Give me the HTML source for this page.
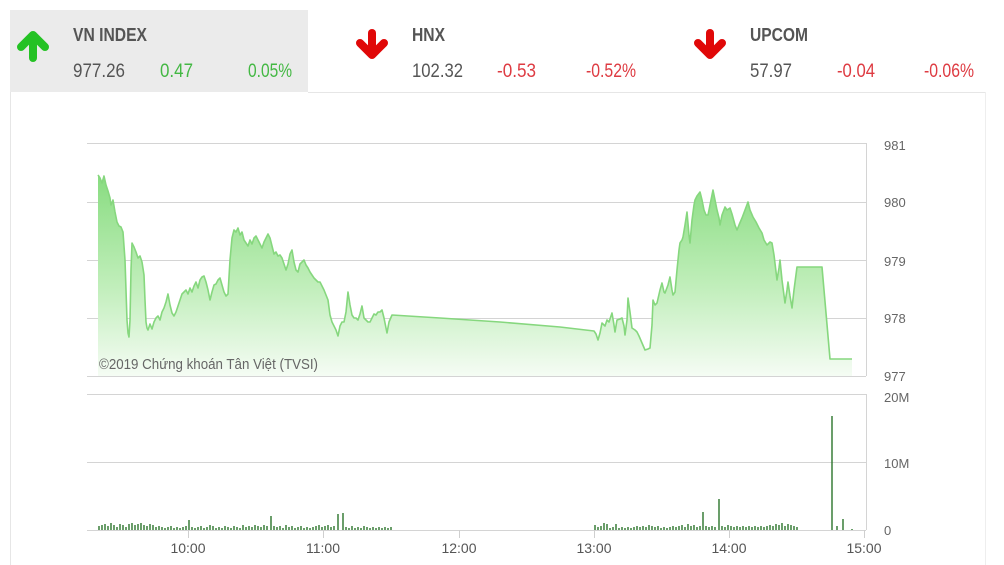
<!DOCTYPE html>
<html><head><meta charset="utf-8"><style>
html,body{margin:0;padding:0;background:#fff;width:1004px;height:565px;overflow:hidden}
svg{display:block}
</style></head><body>
<svg width="1004" height="565" viewBox="0 0 1004 565" xmlns="http://www.w3.org/2000/svg" font-family="'Liberation Sans Narrow','Liberation Sans',sans-serif">
<defs>
<linearGradient id="g" gradientUnits="userSpaceOnUse" x1="0" y1="175" x2="0" y2="376">
<stop offset="0" stop-color="#88dc80"/>
<stop offset="0.55" stop-color="#c0eeba"/>
<stop offset="1" stop-color="#f5fcf4"/>
</linearGradient>
</defs>
<rect x="0" y="0" width="1004" height="565" fill="#fff"/>
<!-- header -->
<rect x="10" y="10" width="298" height="82" fill="#ebebeb"/>
<line x1="308" y1="92.5" x2="985" y2="92.5" stroke="#e6e6e6"/>
<line x1="10.5" y1="92" x2="10.5" y2="565" stroke="#e6e6e6"/>
<line x1="985.5" y1="92" x2="985.5" y2="565" stroke="#eeeeee"/>
<!-- arrows -->
<g stroke="#24c224" stroke-width="8" fill="none" stroke-linecap="round" stroke-linejoin="round">
<polyline points="21,47 33,35 45,47"/><line x1="33" y1="37" x2="33" y2="58"/></g>
<g stroke="#e00808" stroke-width="8" fill="none" stroke-linecap="round" stroke-linejoin="round">
<polyline points="360,43 372,55 384,43"/><line x1="372" y1="33" x2="372" y2="53"/>
<polyline points="698,43 710,55 722,43"/><line x1="710" y1="33" x2="710" y2="53"/></g>
<g font-size="18" font-weight="bold" fill="#555">
<text x="73" y="41" textLength="74" lengthAdjust="spacingAndGlyphs">VN INDEX</text>
<text x="412" y="41" textLength="33" lengthAdjust="spacingAndGlyphs">HNX</text>
<text x="750" y="41" textLength="58" lengthAdjust="spacingAndGlyphs">UPCOM</text>
</g>
<g font-size="19" fill="#555">
<text x="73" y="77" textLength="52" lengthAdjust="spacingAndGlyphs">977.26</text>
<text x="412" y="77" textLength="51" lengthAdjust="spacingAndGlyphs">102.32</text>
<text x="750" y="77" textLength="42" lengthAdjust="spacingAndGlyphs">57.97</text>
</g>
<g font-size="19" fill="#43b843">
<text x="160" y="77" textLength="33" lengthAdjust="spacingAndGlyphs">0.47</text>
<text x="248" y="77" textLength="44" lengthAdjust="spacingAndGlyphs">0.05%</text>
</g>
<g font-size="19" fill="#de3b42">
<text x="497" y="77" textLength="39" lengthAdjust="spacingAndGlyphs">-0.53</text>
<text x="586" y="77" textLength="50" lengthAdjust="spacingAndGlyphs">-0.52%</text>
<text x="837" y="77" textLength="38" lengthAdjust="spacingAndGlyphs">-0.04</text>
<text x="924" y="77" textLength="50" lengthAdjust="spacingAndGlyphs">-0.06%</text>
</g>
<!-- price grid -->
<g stroke="#d4d4d4" stroke-width="1">
<line x1="87" y1="143.5" x2="866" y2="143.5"/>
<line x1="87" y1="202.5" x2="866" y2="202.5"/>
<line x1="87" y1="260.5" x2="866" y2="260.5"/>
<line x1="87" y1="318.5" x2="866" y2="318.5"/>
<line x1="87" y1="376.5" x2="866" y2="376.5"/>
<line x1="866.5" y1="143" x2="866.5" y2="376"/>
<line x1="87" y1="394.5" x2="866" y2="394.5"/>
<line x1="87" y1="462.5" x2="866" y2="462.5"/>
<line x1="87" y1="530.5" x2="866" y2="530.5"/>
<line x1="866.5" y1="394" x2="866.5" y2="530"/>
</g>
<!-- price area -->
<path fill="url(#g)" stroke="none" d="M98,175 L100,178 L102,183 L104,176 L106,185 L108,191 L110,198 L111,205 L113,200 L115,212 L117,222 L119,226 L121,227 L123,232 L125,260 L126,290 L127,320 L128,333 L129,337 L130,320 L131,270 L132,243 L134,247 L136,252 L138,258 L140,256 L142,262 L144,275 L145,300 L146,322 L147,328 L148,330 L150,324 L152,329 L154,322 L156,318 L158,316 L160,320 L162,312 L164,308 L166,302 L168,294 L170,305 L172,313 L174,316 L176,312 L178,306 L180,300 L182,294 L184,292 L186,290 L188,294 L190,288 L192,292 L194,286 L196,282 L198,288 L200,280 L202,277 L204,276 L206,282 L208,290 L210,300 L212,292 L214,285 L216,284 L218,280 L220,278 L222,285 L224,292 L226,296 L228,294 L230,260 L232,238 L234,230 L236,232 L238,228 L240,235 L242,232 L244,240 L246,243 L248,246 L250,240 L252,244 L254,238 L256,236 L258,240 L260,244 L262,248 L264,242 L266,238 L268,234 L270,238 L272,246 L274,254 L276,252 L278,256 L280,255 L282,258 L284,264 L286,270 L288,264 L290,254 L292,250 L294,262 L296,270 L298,272 L300,264 L302,262 L304,260 L306,265 L308,268 L310,272 L312,275 L314,278 L316,280 L318,282 L320,282 L322,286 L324,290 L326,295 L328,300 L330,315 L332,322 L334,326 L336,330 L338,336 L340,326 L342,322 L344,322 L346,312 L348,292 L350,305 L352,315 L354,318 L356,318 L358,320 L360,314 L362,306 L364,318 L366,320 L368,322 L370,322 L372,318 L374,314 L376,315 L378,312 L380,312 L382,310 L384,318 L386,328 L387,333 L389,322 L392,315 L440,318 L500,322 L560,327 L594,331 L596,334 L598,340 L600,333 L602,323 L605,326 L607,320 L609,322 L612,313 L614,325 L615,332 L617,320 L620,319 L622,318 L624,326 L625,335 L627,320 L628,298 L630,312 L632,328 L635,330 L637,332 L639,336 L642,343 L645,350 L648,349 L650,348 L652,325 L653,300 L655,305 L657,303 L660,290 L662,283 L664,292 L665,293 L668,285 L670,277 L672,290 L673,295 L675,292 L677,270 L679,250 L680,243 L682,240 L683,237 L685,225 L687,212 L689,235 L690,243 L692,220 L694,205 L695,200 L697,196 L700,192 L702,200 L704,210 L706,215 L708,215 L710,205 L713,190 L715,200 L717,210 L719,218 L720,225 L722,215 L725,207 L727,210 L730,208 L732,214 L735,225 L737,230 L739,225 L742,218 L745,210 L748,202 L750,210 L753,217 L756,222 L759,228 L762,233 L764,240 L767,245 L770,242 L772,243 L774,255 L777,280 L779,268 L780,260 L782,280 L785,303 L787,290 L788,282 L790,296 L792,308 L794,290 L797,267 L822,267 L830,359 L852,359 L852,376 L98,376 Z"/>
<path fill="none" stroke="#86d77e" stroke-width="1.6" stroke-linejoin="round" d="M98,175 L100,178 L102,183 L104,176 L106,185 L108,191 L110,198 L111,205 L113,200 L115,212 L117,222 L119,226 L121,227 L123,232 L125,260 L126,290 L127,320 L128,333 L129,337 L130,320 L131,270 L132,243 L134,247 L136,252 L138,258 L140,256 L142,262 L144,275 L145,300 L146,322 L147,328 L148,330 L150,324 L152,329 L154,322 L156,318 L158,316 L160,320 L162,312 L164,308 L166,302 L168,294 L170,305 L172,313 L174,316 L176,312 L178,306 L180,300 L182,294 L184,292 L186,290 L188,294 L190,288 L192,292 L194,286 L196,282 L198,288 L200,280 L202,277 L204,276 L206,282 L208,290 L210,300 L212,292 L214,285 L216,284 L218,280 L220,278 L222,285 L224,292 L226,296 L228,294 L230,260 L232,238 L234,230 L236,232 L238,228 L240,235 L242,232 L244,240 L246,243 L248,246 L250,240 L252,244 L254,238 L256,236 L258,240 L260,244 L262,248 L264,242 L266,238 L268,234 L270,238 L272,246 L274,254 L276,252 L278,256 L280,255 L282,258 L284,264 L286,270 L288,264 L290,254 L292,250 L294,262 L296,270 L298,272 L300,264 L302,262 L304,260 L306,265 L308,268 L310,272 L312,275 L314,278 L316,280 L318,282 L320,282 L322,286 L324,290 L326,295 L328,300 L330,315 L332,322 L334,326 L336,330 L338,336 L340,326 L342,322 L344,322 L346,312 L348,292 L350,305 L352,315 L354,318 L356,318 L358,320 L360,314 L362,306 L364,318 L366,320 L368,322 L370,322 L372,318 L374,314 L376,315 L378,312 L380,312 L382,310 L384,318 L386,328 L387,333 L389,322 L392,315 L440,318 L500,322 L560,327 L594,331 L596,334 L598,340 L600,333 L602,323 L605,326 L607,320 L609,322 L612,313 L614,325 L615,332 L617,320 L620,319 L622,318 L624,326 L625,335 L627,320 L628,298 L630,312 L632,328 L635,330 L637,332 L639,336 L642,343 L645,350 L648,349 L650,348 L652,325 L653,300 L655,305 L657,303 L660,290 L662,283 L664,292 L665,293 L668,285 L670,277 L672,290 L673,295 L675,292 L677,270 L679,250 L680,243 L682,240 L683,237 L685,225 L687,212 L689,235 L690,243 L692,220 L694,205 L695,200 L697,196 L700,192 L702,200 L704,210 L706,215 L708,215 L710,205 L713,190 L715,200 L717,210 L719,218 L720,225 L722,215 L725,207 L727,210 L730,208 L732,214 L735,225 L737,230 L739,225 L742,218 L745,210 L748,202 L750,210 L753,217 L756,222 L759,228 L762,233 L764,240 L767,245 L770,242 L772,243 L774,255 L777,280 L779,268 L780,260 L782,280 L785,303 L787,290 L788,282 L790,296 L792,308 L794,290 L797,267 L822,267 L830,359 L852,359"/>
<text x="99" y="369" font-size="15" fill="#666" textLength="219" lengthAdjust="spacingAndGlyphs">©2019 Chứng khoán Tân Việt (TVSI)</text>
<!-- right axis -->
<g font-size="13" fill="#666">
<text x="884" y="150">981</text>
<text x="884" y="207">980</text>
<text x="884" y="266">979</text>
<text x="884" y="323">978</text>
<text x="884" y="381">977</text>
<text x="884" y="402">20M</text>
<text x="884" y="468">10M</text>
<text x="884" y="535">0</text>
</g>
<!-- volume bars -->
<path fill="none" stroke="#2c742c" stroke-width="1.4" d="M99,530v-4M102,530v-5M105,530v-6M108,530v-4M111,530v-7M114,530v-5M117,530v-3M120,530v-6M123,530v-5M126,530v-3M129,530v-6M132,530v-7M135,530v-5M138,530v-6M141,530v-7M144,530v-5M147,530v-4M150,530v-6M153,530v-5M156,530v-3M159,530v-4M162,530v-3M165,530v-2M168,530v-3M171,530v-4M174,530v-2M177,530v-3M180,530v-2M183,530v-3M186,530v-4M189,530v-10M192,530v-3M195,530v-2M198,530v-3M201,530v-4M204,530v-2M207,530v-3M210,530v-5M213,530v-4M216,530v-2M219,530v-3M222,530v-2M225,530v-4M228,530v-3M231,530v-2M234,530v-4M237,530v-3M240,530v-2M243,530v-5M246,530v-3M249,530v-4M252,530v-3M255,530v-5M258,530v-4M261,530v-3M264,530v-5M267,530v-4M271,530v-14M274,530v-4M277,530v-3M280,530v-4M283,530v-2M286,530v-5M289,530v-3M292,530v-4M295,530v-2M298,530v-3M301,530v-4M304,530v-2M307,530v-3M310,530v-2M313,530v-3M316,530v-4M319,530v-5M322,530v-3M325,530v-4M328,530v-5M331,530v-3M334,530v-4M338,530v-16M343,530v-17M346,530v-3M349,530v-2M352,530v-4M355,530v-2M358,530v-3M361,530v-2M364,530v-4M367,530v-3M370,530v-2M373,530v-3M376,530v-2M379,530v-3M382,530v-2M385,530v-3M388,530v-2M391,530v-3M595,530v-5M598,530v-3M601,530v-4M604,530v-7M607,530v-6M610,530v-2M613,530v-3M616,530v-6M619,530v-2M622,530v-3M625,530v-2M628,530v-3M631,530v-2M634,530v-3M637,530v-4M640,530v-3M643,530v-4M646,530v-3M649,530v-5M652,530v-4M655,530v-3M658,530v-4M661,530v-2M664,530v-3M667,530v-2M670,530v-3M673,530v-4M676,530v-3M679,530v-4M682,530v-5M685,530v-3M688,530v-6M691,530v-4M694,530v-5M697,530v-3M700,530v-4M703,530v-18M706,530v-4M709,530v-3M712,530v-4M715,530v-3M719,530v-31M722,530v-4M725,530v-3M728,530v-5M731,530v-4M734,530v-3M737,530v-4M740,530v-3M743,530v-4M746,530v-3M749,530v-4M752,530v-3M755,530v-4M758,530v-3M761,530v-4M764,530v-3M767,530v-4M770,530v-5M773,530v-4M776,530v-6M779,530v-5M782,530v-7M785,530v-4M788,530v-6M791,530v-5M794,530v-4M797,530v-3M832,530v-114M837,530v-4M843,530v-11M852,530v-1"/>
<!-- x ticks -->
<g stroke="#cfcfcf" stroke-width="1">
<line x1="188.5" y1="530" x2="188.5" y2="538"/>
<line x1="323.5" y1="530" x2="323.5" y2="538"/>
<line x1="459.5" y1="530" x2="459.5" y2="538"/>
<line x1="594.5" y1="530" x2="594.5" y2="538"/>
<line x1="729.5" y1="530" x2="729.5" y2="538"/>
<line x1="864.5" y1="530" x2="864.5" y2="538"/>
</g>
<g font-size="14" fill="#555" text-anchor="middle">
<text x="188" y="553">10:00</text>
<text x="323" y="553">11:00</text>
<text x="459" y="553">12:00</text>
<text x="594" y="553">13:00</text>
<text x="729" y="553">14:00</text>
<text x="864" y="553">15:00</text>
</g>
</svg>
</body></html>
